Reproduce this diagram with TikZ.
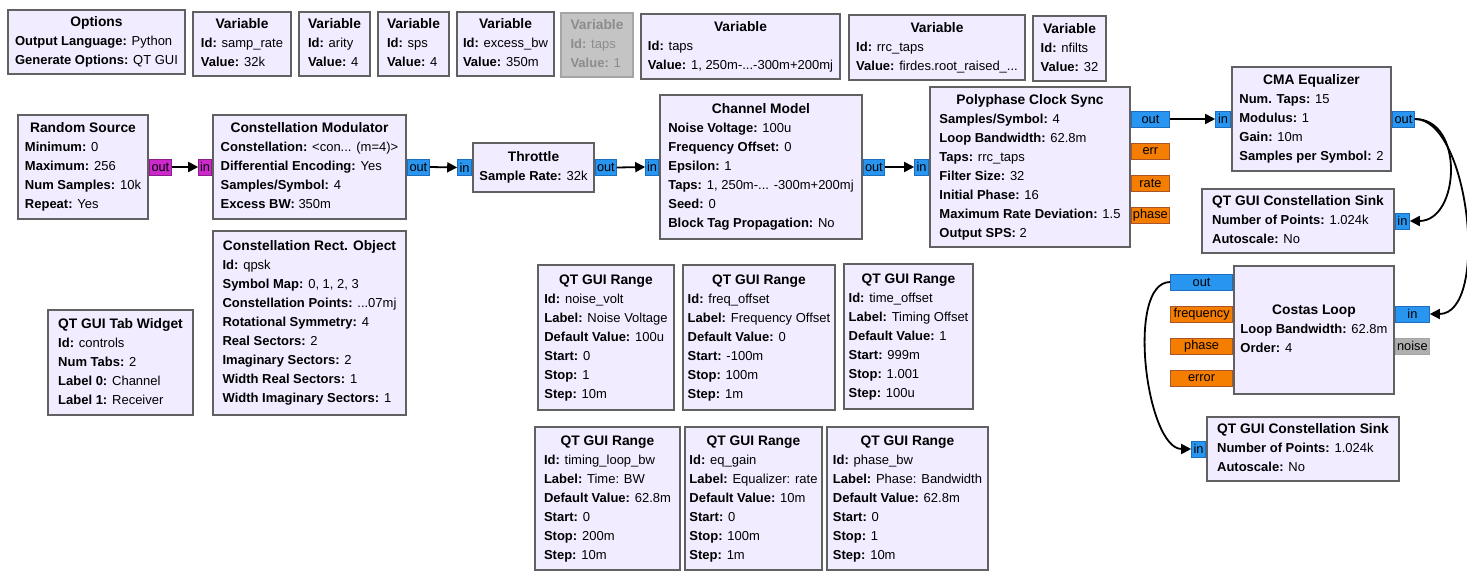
\documentclass[tikz,border=0pt]{standalone}
\usepackage{fontspec}
\setmainfont{Liberation Sans}
\usetikzlibrary{positioning,arrows.meta}

\definecolor{blockfill}{RGB}{241,236,255}
\definecolor{blockline}{RGB}{97,97,97}
\definecolor{cplxfill}{RGB}{40,150,240}
\definecolor{cplxline}{RGB}{30,110,190}
\definecolor{floatfill}{RGB}{245,125,0}
\definecolor{floatline}{RGB}{170,85,40}
\definecolor{bytefill}{RGB}{204,40,204}
\definecolor{byteline}{RGB}{140,30,140}
\definecolor{offfill}{RGB}{196,196,196}
\definecolor{offline}{RGB}{165,165,165}
\definecolor{offtext}{RGB}{140,140,140}
\definecolor{noisefill}{RGB}{175,175,175}

\newcommand{\kv}[2]{\textbf{#1:} #2}
\newcommand{\ttl}[1]{\hfill{\fontsize{13.8}{19}\selectfont\bfseries #1}\hfill\null}
\newcommand{\rows}[1]{\begin{tabular}{@{}l@{}}#1\end{tabular}}

\begin{document}
\begin{tikzpicture}[
    x=1pt, y=-1pt,
    blk/.style={
        draw=blockline,
        line width=2pt,
        fill=blockfill,
        anchor=north west,
        inner sep=0pt,
        font=\fontsize{13}{19}\selectfont
    },
    offblk/.style={blk, draw=offline, fill=offfill, text=offtext},
    port/.style={
        line width=0.8pt,
        inner sep=0pt,
        minimum height=16pt,
        font=\fontsize{12.8}{14}\selectfont
    },
    cport/.style={port, draw=cplxline, fill=cplxfill},
    fport/.style={port, draw=floatline, fill=floatfill},
    bport/.style={port, draw=byteline, fill=bytefill},
    nport/.style={port, draw=offline, fill=noisefill},
    link/.style={-{Triangle[length=10pt,width=10pt]}, line width=1.8pt}
]

\path[use as bounding box, fill=white] (0,0) rectangle (1467,578);

\node[blk, minimum width=177pt, minimum height=64pt] (opts) at (7,9)
    {\rows{\ttl{Options}\\ \kv{Output Language}{Python}\\ \kv{Generate Options}{QT GUI}}};

\node[blk, minimum width=98pt, minimum height=64pt] (vrate) at (192,11)
    {\rows{\ttl{Variable}\\ \kv{Id}{samp\_rate}\\ \kv{Value}{32k}}};

\node[blk, minimum width=71pt, minimum height=64pt] (varity) at (298,11)
    {\rows{\ttl{Variable}\\ \kv{Id}{arity}\\ \kv{Value}{4}}};

\node[blk, minimum width=71pt, minimum height=64pt] (vsps) at (377,11)
    {\rows{\ttl{Variable}\\ \kv{Id}{sps}\\ \kv{Value}{4}}};

\node[blk, minimum width=97pt, minimum height=64pt] (vbw) at (456,11)
    {\rows{\ttl{Variable}\\ \kv{Id}{excess\_bw}\\ \kv{Value}{350m}}};

\node[offblk, minimum width=72pt, minimum height=64pt] (vtapsoff) at (560,12)
    {\rows{\ttl{Variable}\\ \kv{Id}{taps}\\ \kv{Value}{1}}};

\node[blk, minimum width=199pt, minimum height=65pt] (vtaps) at (640,13)
    {\rows{\ttl{Variable}\\ \kv{Id}{taps}\\ \kv{Value}{1, 250m-...-300m+200mj}}};

\node[blk, minimum width=176pt, minimum height=65pt] (vrrc) at (848,14)
    {\rows{\ttl{Variable}\\ \kv{Id}{rrc\_taps}\\ \kv{Value}{firdes.root\_raised\_...}}};

\node[blk, minimum width=73pt, minimum height=65pt] (vnfilts) at (1032,15)
    {\rows{\ttl{Variable}\\ \kv{Id}{nfilts}\\ \kv{Value}{32}}};

\node[blk, minimum width=130pt, minimum height=104pt] (src) at (17,114)
    {\rows{\ttl{Random Source}\\ \kv{Minimum}{0}\\ \kv{Maximum}{256}\\
     \kv{Num Samples}{10k}\\ \kv{Repeat}{Yes}}};

\node[blk, minimum width=193pt, minimum height=104pt] (mod) at (212,114)
    {\rows{\ttl{Constellation Modulator}\\ \kv{Constellation}{<con... (m=4)>}\\
     \kv{Differential Encoding}{Yes}\\ \kv{Samples/Symbol}{4}\\ \kv{Excess BW}{350m}}};

\node[blk, minimum width=121pt, minimum height=49pt] (thr) at (472,142)
    {\rows{\ttl{Throttle}\\ \kv{Sample Rate}{32k}}};

\node[blk, minimum width=202pt, minimum height=144pt] (chan) at (659,94)
    {\rows{\ttl{Channel Model}\\ \kv{Noise Voltage}{100u}\\ \kv{Frequency Offset}{0}\\
     \kv{Epsilon}{1}\\ \kv{Taps}{1, 250m-... -300m+200mj}\\ \kv{Seed}{0}\\
     \kv{Block Tag Propagation}{No}}};

\node[blk, minimum width=200pt, minimum height=160pt] (pcs) at (929,86)
    {\rows{\ttl{Polyphase Clock Sync}\\ \kv{Samples/Symbol}{4}\\ \kv{Loop Bandwidth}{62.8m}\\
     \kv{Taps}{rrc\_taps}\\ \kv{Filter Size}{32}\\ \kv{Initial Phase}{16}\\
     \kv{Maximum Rate Deviation}{1.5}\\ \kv{Output SPS}{2}}};

\node[blk, minimum width=159pt, minimum height=104pt] (cma) at (1231,66)
    {\rows{\ttl{CMA Equalizer}\\ \kv{Num. Taps}{15}\\ \kv{Modulus}{1}\\ \kv{Gain}{10m}\\
     \kv{Samples per Symbol}{2}}};

\node[blk, minimum width=192pt, minimum height=64pt] (snk1) at (1201,188)
    {\rows{\ttl{QT GUI Constellation Sink}\\ \kv{Number of Points}{1.024k}\\ \kv{Autoscale}{No}}};

\node[blk, minimum width=160pt, minimum height=128pt] (cos) at (1233,265)
    {\rows{\ttl{Costas Loop}\\ \kv{Loop Bandwidth}{62.8m}\\ \kv{Order}{4}}};

\node[blk, minimum width=192pt, minimum height=64pt] (snk2) at (1206,416)
    {\rows{\ttl{QT GUI Constellation Sink}\\ \kv{Number of Points}{1.024k}\\ \kv{Autoscale}{No}}};

\node[blk, minimum width=193pt, minimum height=184pt] (rect) at (212,230)
    {\rows{\ttl{Constellation Rect. Object}\\ \kv{Id}{qpsk}\\ \kv{Symbol Map}{0, 1, 2, 3}\\
     \kv{Constellation Points}{...07mj}\\ \kv{Rotational Symmetry}{4}\\
     \kv{Real Sectors}{2}\\ \kv{Imaginary Sectors}{2}\\ \kv{Width Real Sectors}{1}\\
     \kv{Width Imaginary Sectors}{1}}};

\node[blk, minimum width=145pt, minimum height=105pt] (tabs) at (47,309)
    {\rows{\ttl{QT GUI Tab Widget}\\ \kv{Id}{controls}\\ \kv{Num Tabs}{2}\\
     \kv{Label 0}{Channel}\\ \kv{Label 1}{Receiver}}};

\node[blk, minimum width=136pt, minimum height=145pt] (rng1) at (537,264)
    {\rows{\ttl{QT GUI Range}\\ \kv{Id}{noise\_volt}\\ \kv{Label}{Noise Voltage}\\
     \kv{Default Value}{100u}\\ \kv{Start}{0}\\ \kv{Stop}{1}\\ \kv{Step}{10m}}};

\node[blk, minimum width=152pt, minimum height=145pt] (rng2) at (682,264)
    {\rows{\ttl{QT GUI Range}\\ \kv{Id}{freq\_offset}\\ \kv{Label}{Frequency Offset}\\
     \kv{Default Value}{0}\\ \kv{Start}{-100m}\\ \kv{Stop}{100m}\\ \kv{Step}{1m}}};

\node[blk, minimum width=129pt, minimum height=145pt] (rng3) at (843,263)
    {\rows{\ttl{QT GUI Range}\\ \kv{Id}{time\_offset}\\ \kv{Label}{Timing Offset}\\
     \kv{Default Value}{1}\\ \kv{Start}{999m}\\ \kv{Stop}{1.001}\\ \kv{Step}{100u}}};

\node[blk, minimum width=145pt, minimum height=143pt] (rng4) at (534,426)
    {\rows{\ttl{QT GUI Range}\\ \kv{Id}{timing\_loop\_bw}\\ \kv{Label}{Time: BW}\\
     \kv{Default Value}{62.8m}\\ \kv{Start}{0}\\ \kv{Stop}{200m}\\ \kv{Step}{10m}}};

\node[blk, minimum width=137pt, minimum height=143pt] (rng5) at (684,426)
    {\rows{\ttl{QT GUI Range}\\ \kv{Id}{eq\_gain}\\ \kv{Label}{Equalizer: rate}\\
     \kv{Default Value}{10m}\\ \kv{Start}{0}\\ \kv{Stop}{100m}\\ \kv{Step}{1m}}};

\node[blk, minimum width=161pt, minimum height=143pt] (rng6) at (826,426)
    {\rows{\ttl{QT GUI Range}\\ \kv{Id}{phase\_bw}\\ \kv{Label}{Phase: Bandwidth}\\
     \kv{Default Value}{62.8m}\\ \kv{Start}{0}\\ \kv{Stop}{1}\\ \kv{Step}{10m}}};

\node[bport, minimum width=22pt, anchor=west] (srcout) at (src.east) {out};
\node[bport, minimum width=13pt, anchor=east] (modin) at (mod.west) {in};
\node[cport, minimum width=22pt, anchor=west] (modout) at (mod.east) {out};
\node[cport, minimum width=14pt, anchor=east] (thrin) at (thr.west) {in};
\node[cport, minimum width=21pt, anchor=west] (throut) at (thr.east) {out};
\node[cport, minimum width=13pt, anchor=east] (chanin) at (chan.west) {in};
\node[cport, minimum width=21pt, anchor=west] (chanout) at (chan.east) {out};
\node[cport, minimum width=14pt, anchor=east] (pcsin) at (pcs.west) {in};
\node[cport, minimum width=38pt, anchor=west] (pcsout) at ([yshift=48pt]pcs.east) {out};
\node[fport, minimum width=38pt, anchor=west] (pcserr) at ([yshift=16pt]pcs.east) {err};
\node[fport, minimum width=38pt, anchor=west] (pcsrate) at ([yshift=-16pt]pcs.east) {rate};
\node[fport, minimum width=38pt, anchor=west] (pcsphase) at ([yshift=-48pt]pcs.east) {phase};
\node[cport, minimum width=15pt, anchor=east] (cmain) at (cma.west) {in};
\node[cport, minimum width=22pt, anchor=west] (cmaout) at (cma.east) {out};
\node[cport, minimum width=14pt, anchor=west] (snk1in) at (snk1.east) {in};
\node[cport, minimum width=34pt, anchor=west] (cosin) at ([yshift=16pt]cos.east) {in};
\node[nport, minimum width=34pt, anchor=west] (cosnoise) at ([yshift=-16pt]cos.east) {noise};
\node[cport, minimum width=62pt, anchor=east] (cosout) at ([yshift=48pt]cos.west) {out};
\node[fport, minimum width=62pt, anchor=east] (cosfreq) at ([yshift=16pt]cos.west) {frequency};
\node[fport, minimum width=62pt, anchor=east] (cosphase) at ([yshift=-16pt]cos.west) {phase};
\node[fport, minimum width=62pt, anchor=east] (coserr) at ([yshift=-48pt]cos.west) {error};
\node[cport, minimum width=14pt, anchor=east] (snk2in) at (snk2.west) {in};

\draw[link] (srcout.east) -- (modin.west);
\draw[link] (modout.east) -- (thrin.west);
\draw[link] (throut.east) -- (chanin.west);
\draw[link] (chanout.east) -- (pcsin.west);
\draw[link] (pcsout.east) -- (cmain.west);
\draw[link] (cmaout.east) .. controls +(50,0) and +(50,0) .. (snk1in.east);
\draw[link] (cmaout.east) .. controls +(55,0) and +(60,0) .. (cosin.east);
\draw[link] (cosout.west) .. controls +(-45,0) and +(-45,0) .. (snk2in.west);

\end{tikzpicture}
\end{document}
